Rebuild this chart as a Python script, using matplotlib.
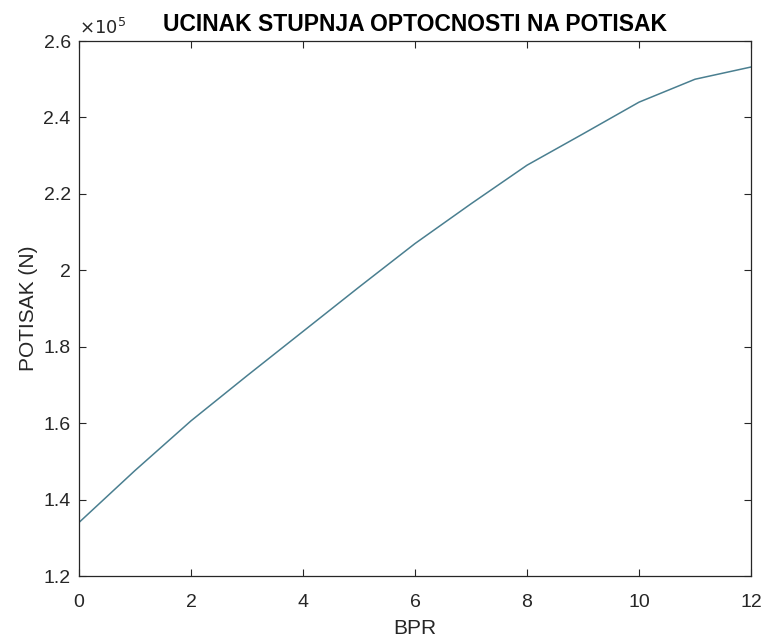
import matplotlib.pyplot as plt
import numpy as np
from matplotlib.ticker import FuncFormatter

plt.rcParams['font.family'] = ['Liberation Sans', 'DejaVu Sans']

bpr = [0, 1, 2, 3, 4, 5, 6, 7, 8, 9, 10, 11, 12]
potisak = [134000, 147600, 160600, 172400, 184000, 195600, 207000,
           217400, 227500, 235700, 244000, 250000, 253200]

fig = plt.figure(figsize=(7.63, 6.41), dpi=100)
ax = fig.add_axes([0.1035, 0.1014, 0.8808, 0.8346])

ax.plot(bpr, potisak, color='#4a7f90', linewidth=1.1)

ax.set_xlim(0, 12)
ax.set_ylim(1.2e5, 2.6e5)
ax.set_xticks(np.arange(0, 13, 2))
ax.set_yticks(np.arange(1.2e5, 2.61e5, 0.2e5))
ax.yaxis.set_major_formatter(FuncFormatter(lambda v, p: '%g' % round(v / 1e5, 2)))

dark = '#262626'
for s in ax.spines.values():
    s.set_color(dark)
    s.set_linewidth(0.9)
ax.tick_params(direction='in', length=5, width=0.8, colors=dark, labelsize=14,
               top=True, right=True)
ax.tick_params(axis='x', pad=13)
ax.tick_params(axis='y', pad=6)

ax.text(0.0, 1.006, r'$\times10^{5}$', transform=ax.transAxes, fontsize=13,
        color=dark, ha='left', va='bottom')

ax.set_title('UCINAK STUPNJA OPTOCNOSTI NA POTISAK', fontsize=16.5, fontweight='bold',
             color='black', pad=7)
ax.set_xlabel('BPR', fontsize=15, color=dark, labelpad=6)
ax.set_ylabel('POTISAK (N)', fontsize=15, color=dark, labelpad=4)

fig.savefig('out.png', dpi=100)
